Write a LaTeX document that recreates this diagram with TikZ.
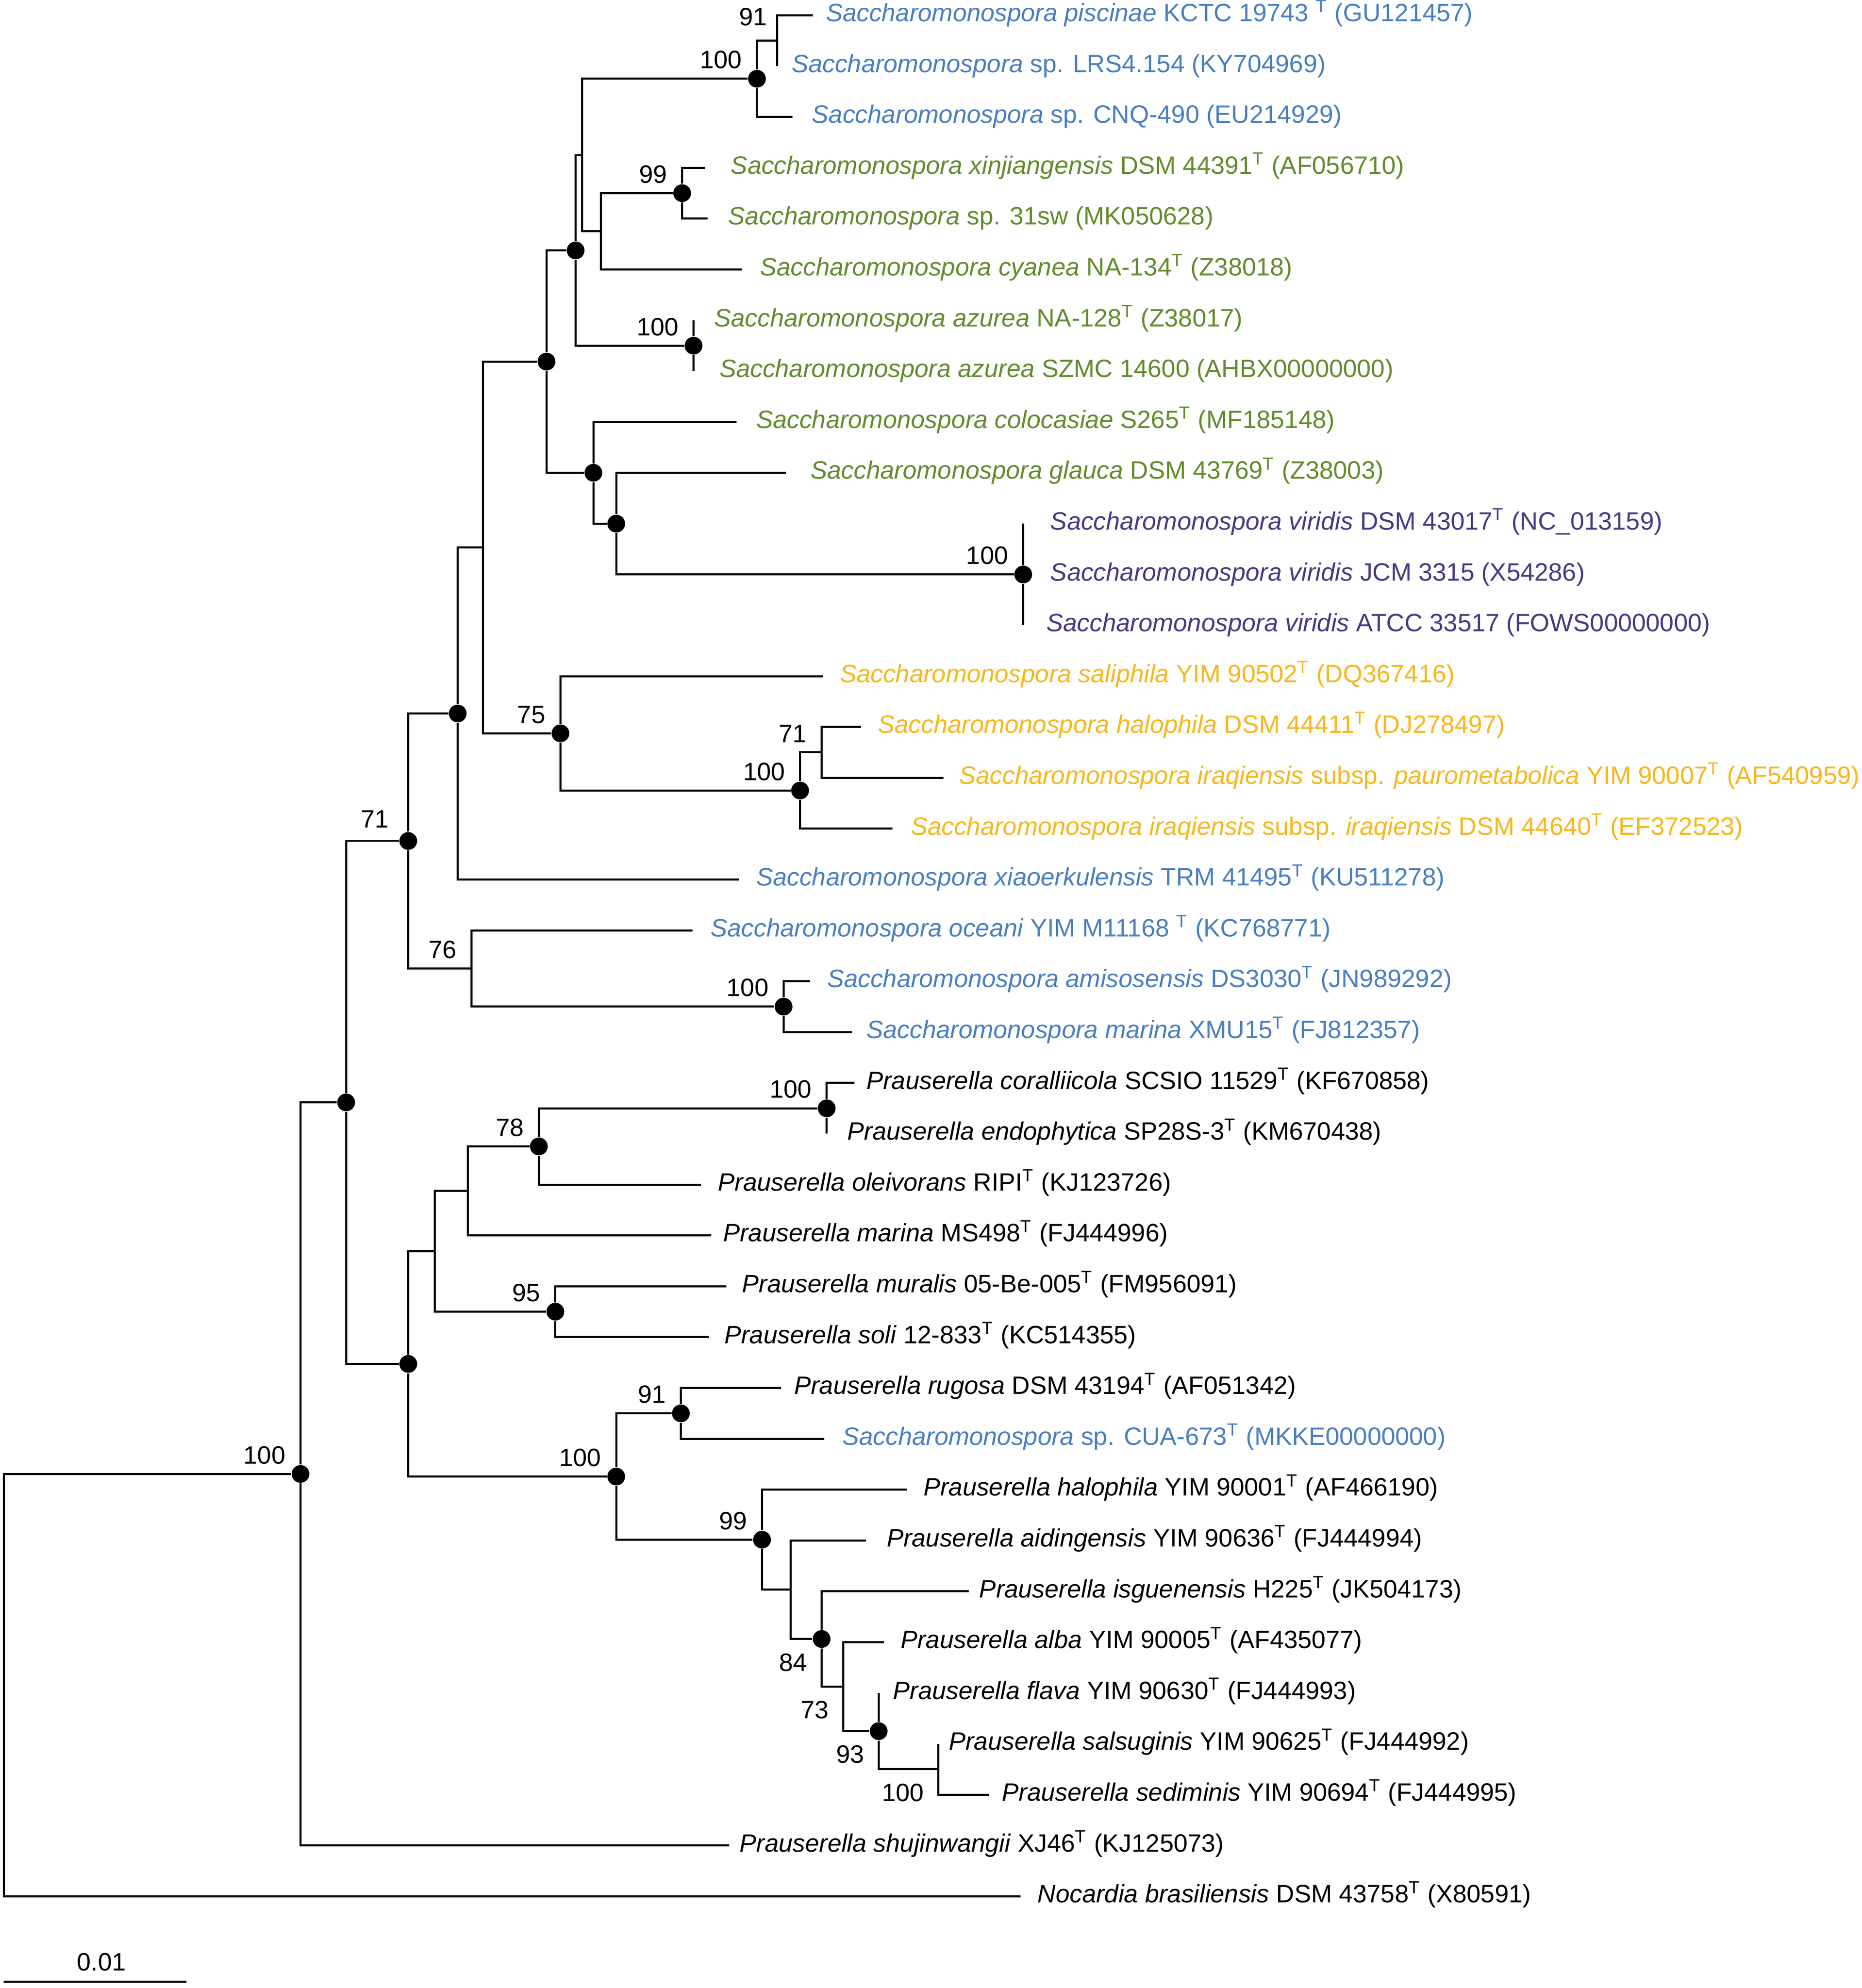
\documentclass[tikz,border=0pt]{standalone}
\usepackage{fontspec}
\setmainfont{Liberation Sans}
\usepackage{xcolor}
\usetikzlibrary{positioning}

\definecolor{sacblue}{RGB}{74,127,193}
\definecolor{sacgreen}{RGB}{98,140,46}
\definecolor{sacpurple}{RGB}{70,58,132}
\definecolor{sacyellow}{RGB}{247,183,29}

\begin{document}
\begin{tikzpicture}[x=0.5pt, y=-0.5pt,
    branch/.style={line width=0.8pt},
    dot/.style={circle, fill=black, inner sep=0pt, minimum size=7pt},
    taxon/.style={anchor=west, inner sep=0pt, text height=7.4pt, text depth=2.5pt, font=\fontsize{9.9}{11.9}\selectfont},
    bs/.style={inner sep=0pt, font=\fontsize{9.9}{11.9}\selectfont}]

    \useasboundingbox (0,0) rectangle (1468.3,1568);

    % taxa
    \coordinate (t1) at (641,12);      \node[taxon, text=sacblue] (piscinae) at (651,12) {\textit{Saccharomonospora piscinae} KCTC 19743 \textsuperscript{T} (GU121457)};
    \coordinate (t2) at (613,52.1);    \node[taxon, text=sacblue] (lrs4) at (624,52.1) {\textit{Saccharomonospora} sp. LRS4.154 (KY704969)};
    \coordinate (t3) at (625,92.2);    \node[taxon, text=sacblue] (cnq490) at (640,92.2) {\textit{Saccharomonospora} sp. CNQ-490 (EU214929)};
    \coordinate (t4) at (556,132.3);   \node[taxon, text=sacgreen] (xinjiangensis) at (576,132.3) {\textit{Saccharomonospora xinjiangensis} DSM 44391\textsuperscript{T} (AF056710)};
    \coordinate (t5) at (558,172.4);   \node[taxon, text=sacgreen] (sw31) at (574,172.4) {\textit{Saccharomonospora} sp. 31sw (MK050628)};
    \coordinate (t6) at (585,212.5);   \node[taxon, text=sacgreen] (cyanea) at (599,212.5) {\textit{Saccharomonospora cyanea} NA-134\textsuperscript{T} (Z38018)};
    \coordinate (t7) at (547,252.6);   \node[taxon, text=sacgreen] (azureaA) at (563,252.6) {\textit{Saccharomonospora azurea} NA-128\textsuperscript{T} (Z38017)};
    \coordinate (t8) at (547,292.7);   \node[taxon, text=sacgreen] (azureaB) at (567,292.7) {\textit{Saccharomonospora azurea} SZMC 14600 (AHBX00000000)};
    \coordinate (t9) at (581,332.8);   \node[taxon, text=sacgreen] (colocasiae) at (596,332.8) {\textit{Saccharomonospora colocasiae} S265\textsuperscript{T} (MF185148)};
    \coordinate (t10) at (620,372.9);  \node[taxon, text=sacgreen] (glauca) at (639,372.9) {\textit{Saccharomonospora glauca} DSM 43769\textsuperscript{T} (Z38003)};
    \coordinate (t11) at (807,413);    \node[taxon, text=sacpurple] (viridisA) at (828,413) {\textit{Saccharomonospora viridis} DSM 43017\textsuperscript{T} (NC\_013159)};
    \coordinate (t12) at (807,453.1);  \node[taxon, text=sacpurple] (viridisB) at (828,453.1) {\textit{Saccharomonospora viridis} JCM 3315 (X54286)};
    \coordinate (t13) at (807,493.2);  \node[taxon, text=sacpurple] (viridisC) at (825,493.2) {\textit{Saccharomonospora viridis} ATCC 33517 (FOWS00000000)};
    \coordinate (t14) at (649,533.3);  \node[taxon, text=sacyellow] (saliphila) at (662,533.3) {\textit{Saccharomonospora saliphila} YIM 90502\textsuperscript{T} (DQ367416)};
    \coordinate (t15) at (679,573.4);  \node[taxon, text=sacyellow] (halophilaS) at (692,573.4) {\textit{Saccharomonospora halophila} DSM 44411\textsuperscript{T} (DJ278497)};
    \coordinate (t16) at (744,613.5);  \node[taxon, text=sacyellow] (paurometabolica) at (756,613.5) {\textit{Saccharomonospora iraqiensis} subsp. \textit{paurometabolica} YIM 90007\textsuperscript{T} (AF540959)};
    \coordinate (t17) at (704,653.6);  \node[taxon, text=sacyellow] (iraqiensis) at (718,653.6) {\textit{Saccharomonospora iraqiensis} subsp. \textit{iraqiensis} DSM 44640\textsuperscript{T} (EF372523)};
    \coordinate (t18) at (583,693.7);  \node[taxon, text=sacblue] (xiaoerkulensis) at (596,693.7) {\textit{Saccharomonospora xiaoerkulensis} TRM 41495\textsuperscript{T} (KU511278)};
    \coordinate (t19) at (546,733.8);  \node[taxon, text=sacblue] (oceani) at (560,733.8) {\textit{Saccharomonospora oceani} YIM M11168 \textsuperscript{T} (KC768771)};
    \coordinate (t20) at (639,773.9);  \node[taxon, text=sacblue] (amisosensis) at (652,773.9) {\textit{Saccharomonospora amisosensis} DS3030\textsuperscript{T} (JN989292)};
    \coordinate (t21) at (672,814);    \node[taxon, text=sacblue] (marinaS) at (683,814) {\textit{Saccharomonospora marina} XMU15\textsuperscript{T} (FJ812357)};
    \coordinate (t22) at (674,854.1);  \node[taxon] (coralliicola) at (683,854.1) {\textit{Prauserella coralliicola} SCSIO 11529\textsuperscript{T} (KF670858)};
    \coordinate (t23) at (652,894.2);  \node[taxon] (endophytica) at (668,894.2) {\textit{Prauserella endophytica} SP28S-3\textsuperscript{T} (KM670438)};
    \coordinate (t24) at (553,934.3);  \node[taxon] (oleivorans) at (566,934.3) {\textit{Prauserella oleivorans} RIPI\textsuperscript{T} (KJ123726)};
    \coordinate (t25) at (561,974.4);  \node[taxon] (marinaP) at (570,974.4) {\textit{Prauserella marina} MS498\textsuperscript{T} (FJ444996)};
    \coordinate (t26) at (573,1014.5); \node[taxon] (muralis) at (585,1014.5) {\textit{Prauserella muralis} 05-Be-005\textsuperscript{T} (FM956091)};
    \coordinate (t27) at (559,1054.6); \node[taxon] (soli) at (571,1054.6) {\textit{Prauserella soli} 12-833\textsuperscript{T} (KC514355)};
    \coordinate (t28) at (616,1094.7); \node[taxon] (rugosa) at (626,1094.7) {\textit{Prauserella rugosa} DSM 43194\textsuperscript{T} (AF051342)};
    \coordinate (t29) at (650,1134.8); \node[taxon, text=sacblue] (cua673) at (664,1134.8) {\textit{Saccharomonospora} sp. CUA-673\textsuperscript{T} (MKKE00000000)};
    \coordinate (t30) at (715,1174.9); \node[taxon] (halophilaP) at (728,1174.9) {\textit{Prauserella halophila} YIM 90001\textsuperscript{T} (AF466190)};
    \coordinate (t31) at (683,1215);   \node[taxon] (aidingensis) at (699,1215) {\textit{Prauserella aidingensis} YIM 90636\textsuperscript{T} (FJ444994)};
    \coordinate (t32) at (764,1255.1); \node[taxon] (isguenensis) at (772,1255.1) {\textit{Prauserella isguenensis} H225\textsuperscript{T} (JK504173)};
    \coordinate (t33) at (697,1295.2); \node[taxon] (alba) at (710,1295.2) {\textit{Prauserella alba} YIM 90005\textsuperscript{T} (AF435077)};
    \coordinate (t34) at (693,1335.3); \node[taxon] (flava) at (704,1335.3) {\textit{Prauserella flava} YIM 90630\textsuperscript{T} (FJ444993)};
    \coordinate (t35) at (740,1375.4); \node[taxon] (salsuginis) at (748,1375.4) {\textit{Prauserella salsuginis} YIM 90625\textsuperscript{T} (FJ444992)};
    \coordinate (t36) at (780,1415.5); \node[taxon] (sediminis) at (790,1415.5) {\textit{Prauserella sediminis} YIM 90694\textsuperscript{T} (FJ444995)};
    \coordinate (t37) at (575,1455.6); \node[taxon] (shujinwangii) at (583,1455.6) {\textit{Prauserella shujinwangii} XJ46\textsuperscript{T} (KJ125073)};
    \coordinate (t38) at (805,1495.7); \node[taxon] (brasiliensis) at (818,1495.7) {\textit{Nocardia brasiliensis} DSM 43758\textsuperscript{T} (X80591)};

    % internal nodes
    \coordinate (nA91) at (613,32.05);
    \node[dot] (nB100) at (597,62.1) {};
    \node[dot] (n99) at (538,152.35) {};
    \coordinate (nD) at (474,182.4);
    \coordinate (nC) at (459,122.3);
    \node[dot] (nAz100) at (547,272.65) {};
    \node[dot] (nF) at (454,197.5) {};
    \node[dot] (nV100) at (807,453.1) {};
    \node[dot] (nG) at (486,413) {};
    \node[dot] (nH) at (468,372.9) {};
    \node[dot] (nI) at (431,285.2) {};
    \coordinate (n71b) at (648,593.45);
    \node[dot] (n100c) at (631,623.5) {};
    \node[dot] (n75) at (442,578.4) {};
    \coordinate (nJ) at (381,431.8);
    \node[dot] (nK) at (361,562.75) {};
    \node[dot] (n100d) at (618,793.95) {};
    \coordinate (n76) at (372,763.9);
    \node[dot] (n71) at (322,663.3) {};
    \node[dot] (n100e) at (652,874.15) {};
    \node[dot] (n78) at (425,904.2) {};
    \coordinate (nL) at (369,939.3);
    \node[dot] (n95) at (438,1034.55) {};
    \coordinate (nM) at (343,986.9);
    \node[dot] (n91) at (537,1114.75) {};
    \coordinate (n100g) at (740,1395.45);
    \node[dot] (n93) at (693,1365.4) {};
    \coordinate (n73) at (665,1330.3);
    \node[dot] (n84) at (648,1292.7) {};
    \coordinate (nN) at (623.5,1253.85);
    \node[dot] (n99b) at (601,1214.4) {};
    \node[dot] (n100f) at (486,1164.6) {};
    \node[dot] (nO) at (322,1075.75) {};
    \node[dot] (nP) at (273,869.5) {};
    \node[dot] (n100r) at (237,1162.55) {};
    \coordinate (root) at (3,1329.1);

    % branches
    \draw[branch] (nA91) |- (t1) (nA91) |- (t2);
    \draw[branch] (nB100) |- (nA91) (nB100) |- (t3);
    \draw[branch] (n99) |- (t4) (n99) |- (t5);
    \draw[branch] (nD) |- (n99) (nD) |- (t6);
    \draw[branch] (nC) |- (nB100) (nC) |- (nD);
    \draw[branch] (nAz100) |- (t7) (nAz100) |- (t8);
    \draw[branch] (nF) |- (nC) (nF) |- (nAz100);
    \draw[branch] (nV100) |- (t11) (nV100) |- (t13);
    \draw[branch] (nG) |- (t10) (nG) |- (nV100);
    \draw[branch] (nH) |- (t9) (nH) |- (nG);
    \draw[branch] (nI) |- (nF) (nI) |- (nH);
    \draw[branch] (n71b) |- (t15) (n71b) |- (t16);
    \draw[branch] (n100c) |- (n71b) (n100c) |- (t17);
    \draw[branch] (n75) |- (t14) (n75) |- (n100c);
    \draw[branch] (nJ) |- (nI) (nJ) |- (n75);
    \draw[branch] (nK) |- (nJ) (nK) |- (t18);
    \draw[branch] (n100d) |- (t20) (n100d) |- (t21);
    \draw[branch] (n76) |- (t19) (n76) |- (n100d);
    \draw[branch] (n71) |- (nK) (n71) |- (n76);
    \draw[branch] (n100e) |- (t22) (n100e) |- (t23);
    \draw[branch] (n78) |- (n100e) (n78) |- (t24);
    \draw[branch] (nL) |- (n78) (nL) |- (t25);
    \draw[branch] (n95) |- (t26) (n95) |- (t27);
    \draw[branch] (nM) |- (nL) (nM) |- (n95);
    \draw[branch] (n91) |- (t28) (n91) |- (t29);
    \draw[branch] (n100g) |- (t35) (n100g) |- (t36);
    \draw[branch] (n93) |- (t34) (n93) |- (n100g);
    \draw[branch] (n73) |- (t33) (n73) |- (n93);
    \draw[branch] (n84) |- (t32) (n84) |- (n73);
    \draw[branch] (nN) |- (t31) (nN) |- (n84);
    \draw[branch] (n99b) |- (t30) (n99b) |- (nN);
    \draw[branch] (n100f) |- (n91) (n100f) |- (n99b);
    \draw[branch] (nO) |- (nM) (nO) |- (n100f);
    \draw[branch] (nP) |- (n71) (nP) |- (nO);
    \draw[branch] (n100r) |- (nP) (n100r) |- (t37);
    \draw[branch] (root) |- (n100r) (root) |- (t38);

    % bootstrap values
    \node[bs, above left=5.75pt and 3.75pt of nA91] (bsA91) {91};
    \node[bs, above left=3.75pt and 5.75pt of nB100.center] (bsB100) {100};
    \node[bs, above left=3.75pt and 5.75pt of n99.center] (bs99) {99};
    \node[bs, above left=3.75pt and 5.75pt of nAz100.center] (bsAz100) {100};
    \node[bs, above left=3.75pt and 5.75pt of nV100.center] (bsV100) {100};
    \node[bs, above left=3.75pt and 5.75pt of n75.center] (bs75) {75};
    \node[bs, above left=3.75pt and 5.75pt of n71b] (bs71b) {71};
    \node[bs, above left=3.75pt and 5.75pt of n100c.center] (bs100c) {100};
    \node[bs, above left=5pt and 7.5pt of n71.center] (bs71) {71};
    \node[bs, above left=3.75pt and 5.75pt of n76] (bs76) {76};
    \node[bs, above left=3.75pt and 5.75pt of n100d.center] (bs100d) {100};
    \node[bs, above left=3.75pt and 5.75pt of n100e.center] (bs100e) {100};
    \node[bs, above left=3.75pt and 5.75pt of n78.center] (bs78) {78};
    \node[bs, above left=3.75pt and 5.75pt of n95.center] (bs95) {95};
    \node[bs, above left=3.75pt and 5.75pt of n91.center] (bs91) {91};
    \node[bs, above left=3.75pt and 5.75pt of n100f.center] (bs100f) {100};
    \node[bs, above left=3.75pt and 5.75pt of n99b.center] (bs99b) {99};
    \node[bs, above left=3.75pt and 5.75pt of n100r.center] (bs100r) {100};
    \node[bs, below left=5.5pt and 5.5pt of n84.center] (bs84) {84};
    \node[bs, below left=5.5pt and 5.5pt of n73] (bs73) {73};
    \node[bs, below left=5.5pt and 5.5pt of n93.center] (bs93) {93};
    \node[bs, below left=5.5pt and 5.5pt of n100g] (bs100g) {100};

    % scale bar
    \coordinate (sbL) at (3,1563);
    \coordinate (sbR) at (147,1563);
    \coordinate (sbM) at (80,1563);
    \draw[branch] (sbL) -- (sbR);
    \node[bs, above=4pt of sbM] (scale) {0.01};

\end{tikzpicture}
\end{document}
